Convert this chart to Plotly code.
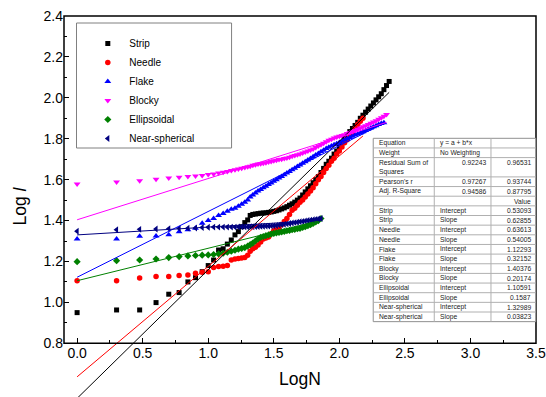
import plotly.graph_objects as go

# ---------------- data ----------------
X_GRID = [0.000, 0.301, 0.477, 0.602, 0.699, 0.778, 0.845, 0.903, 0.954, 1.000,
          1.041, 1.079, 1.114, 1.146, 1.176, 1.204, 1.230, 1.255, 1.279, 1.301,
          1.32, 1.34, 1.36, 1.38, 1.40, 1.42, 1.44, 1.46, 1.48, 1.50,
          1.52, 1.54, 1.56, 1.58, 1.60, 1.62, 1.64, 1.66, 1.68, 1.70,
          1.72, 1.74, 1.76, 1.78, 1.80, 1.82, 1.84, 1.86, 1.88, 1.90,
          1.92, 1.94, 1.96, 1.98, 2.00, 2.02, 2.04, 2.06, 2.08, 2.10,
          2.12, 2.14, 2.16, 2.18, 2.20, 2.22, 2.24, 2.26, 2.28, 2.30,
          2.32, 2.34, 2.36, 2.38]

STRIP_Y = [0.950, 0.963, 0.963, 0.999, 1.040, 1.048, 1.100, 1.121, 1.150, 1.180,
           1.207, 1.256, 1.262, 1.285, 1.305, 1.330, 1.346, 1.370, 1.390, 1.403,
           1.425, 1.430, 1.432, 1.434, 1.436, 1.437, 1.438, 1.440, 1.442, 1.445,
           1.448, 1.452, 1.457, 1.462, 1.468, 1.475, 1.482, 1.490, 1.500, 1.510,
           1.525, 1.540, 1.555, 1.570, 1.585, 1.600, 1.615, 1.635, 1.655, 1.675,
           1.690, 1.705, 1.725, 1.740, 1.760, 1.780, 1.800, 1.820, 1.835, 1.850,
           1.865, 1.880, 1.900, 1.915, 1.930, 1.945, 1.960, 1.975, 1.990, 2.005,
           2.020, 2.040, 2.060, 2.080]

NEEDLE_Y = [1.106, 1.106, 1.119, 1.126, 1.126, 1.132, 1.134, 1.142, 1.147, 1.150,
            1.170, 1.175, 1.177, 1.180, 1.207, 1.212, 1.215, 1.217, 1.220, 1.230,
            1.250, 1.262, 1.270, 1.280, 1.295, 1.310, 1.315, 1.320, 1.335, 1.350,
            1.355, 1.360, 1.380, 1.395, 1.410, 1.430, 1.450, 1.460, 1.475, 1.490,
            1.500, 1.515, 1.530, 1.545, 1.560, 1.580, 1.600, 1.615, 1.635, 1.655,
            1.670, 1.690, 1.705, 1.725, 1.740, 1.760, 1.780, 1.795, 1.815, 1.830,
            1.850, 1.870, 1.885, 1.900]

FLAKE_Y = [1.310, 1.310, 1.323, 1.325, 1.331, 1.345, 1.355, 1.362, 1.387, 1.400,
           1.410, 1.425, 1.435, 1.445, 1.455, 1.460, 1.470, 1.480, 1.490, 1.500,
           1.515, 1.525, 1.535, 1.545, 1.552, 1.560, 1.568, 1.576, 1.584, 1.592,
           1.600, 1.608, 1.616, 1.624, 1.632, 1.640, 1.648, 1.656, 1.664, 1.672,
           1.680, 1.688, 1.696, 1.704, 1.712, 1.720, 1.728, 1.736, 1.744, 1.752,
           1.758, 1.764, 1.770, 1.776, 1.782, 1.788, 1.794, 1.800, 1.806, 1.812,
           1.818, 1.823, 1.828, 1.834, 1.840, 1.846, 1.852, 1.858, 1.864, 1.869,
           1.874, 1.878]

BLOCKY_Y = [1.579, 1.589, 1.595, 1.602, 1.608, 1.612, 1.615, 1.618, 1.620, 1.625,
            1.628, 1.632, 1.636, 1.640, 1.645, 1.648, 1.652, 1.656, 1.660, 1.663,
            1.666, 1.670, 1.673, 1.676, 1.678, 1.680, 1.683, 1.686, 1.689, 1.692,
            1.695, 1.698, 1.700, 1.703, 1.706, 1.710, 1.714, 1.718, 1.722, 1.726,
            1.730, 1.735, 1.740, 1.745, 1.750, 1.757, 1.764, 1.771, 1.778, 1.785,
            1.792, 1.798, 1.803, 1.808, 1.812, 1.816, 1.820, 1.825, 1.830, 1.835,
            1.840, 1.846, 1.852, 1.858, 1.864, 1.870, 1.876, 1.882, 1.888, 1.895,
            1.902, 1.910, 1.918]

ELLIPSOIDAL_Y = [1.199, 1.204, 1.207, 1.212, 1.219, 1.224, 1.227, 1.229, 1.231, 1.232,
                 1.234, 1.237, 1.240, 1.245, 1.250, 1.255, 1.260, 1.264, 1.268, 1.275,
                 1.282, 1.290, 1.300, 1.310, 1.318, 1.322, 1.326, 1.330, 1.334, 1.337,
                 1.340, 1.342, 1.345, 1.347, 1.350, 1.352, 1.355, 1.357, 1.360, 1.362,
                 1.366, 1.370, 1.375, 1.380, 1.386, 1.393, 1.400, 1.410]

NEARSPH_Y = [1.348, 1.355, 1.357, 1.359, 1.360, 1.362, 1.363, 1.364, 1.366, 1.367,
             1.368, 1.368, 1.368, 1.368, 1.368, 1.368, 1.369, 1.369, 1.369, 1.369,
             1.370, 1.370, 1.371, 1.371, 1.372, 1.372, 1.373, 1.373, 1.374, 1.375,
             1.376, 1.378, 1.380, 1.382, 1.384, 1.386, 1.388, 1.390, 1.392, 1.394,
             1.396, 1.398, 1.400, 1.402, 1.404, 1.406, 1.408, 1.410]

SERIES_NAMES = ["Strip", "Needle", "Flake", "Blocky", "Ellipsoidal", "Near-spherical"]
SERIES_Y = [STRIP_Y, NEEDLE_Y, FLAKE_Y, BLOCKY_Y, ELLIPSOIDAL_Y, NEARSPH_Y]
INTERCEPTS = [0.53093, 0.63613, 1.12293, 1.40376, 1.10591, 1.32989]
SLOPES = [0.62855, 0.54005, 0.32152, 0.20174, 0.1587, 0.03823]

STAT_LABELS = ["Residual Sum of<br>Squares", "Pearson's r", "Adj. R-Square"]
STAT_COL2 = ["0.92243", "0.97267", "0.94586"]
STAT_COL3 = ["0.96531", "0.93744", "0.87795"]

X_TICKS = [0.0, 0.5, 1.0, 1.5, 2.0, 2.5, 3.0, 3.5]
X_MINOR = [0.25, 0.75, 1.25, 1.75, 2.25, 2.75, 3.25]
Y_TICKS = [0.8, 1.0, 1.2, 1.4, 1.6, 1.8, 2.0, 2.2, 2.4]
Y_MINOR = [0.9, 1.1, 1.3, 1.5, 1.7, 1.9, 2.1, 2.3]

# ---------------- styles ----------------
COLORS = ["#000000", "#ff0000", "#0000ff", "#ff00ff", "#008000", "#000080"]
SYMBOLS = ["square", "circle", "triangle-up", "triangle-down", "diamond", "triangle-left"]
SIZES = [5, 5.5, 6, 6, 5.5, 6]
FONT = "Arial, 'Liberation Sans', sans-serif"

W, H = 546, 397
ML, MR, MT, MB = 64.2, 10, 16, 0
PW, PH = W - ML - MR, H - MT - MB
Y_LO = 0.8 - (397 - 343.3) / ((343.3 - 16) / 1.6)
Y_RANGE = [Y_LO, 2.4]
X_RANGE = [-0.1, 3.5]
AXIS_POS = (0.8 - Y_LO) / (2.4 - Y_LO)


def pxx(px):
    return (px - ML) / PW


def pxy(py):
    return 1 - (py - MT) / PH


fig = go.Figure()

for name, ys, c, s, sz in zip(SERIES_NAMES, SERIES_Y, COLORS, SYMBOLS, SIZES):
    xs = X_GRID[:len(ys)]
    fig.add_trace(go.Scatter(x=xs, y=ys, mode="markers", name=name,
                             marker=dict(color=c, symbol=s, size=sz, line=dict(width=0))))

for name, ys, c, a, b in zip(SERIES_NAMES, SERIES_Y, COLORS, INTERCEPTS, SLOPES):
    xe = X_GRID[len(ys) - 1]
    fig.add_trace(go.Scatter(x=[0, xe], y=[a, a + b * xe], mode="lines",
                             line=dict(color=c, width=1), showlegend=False,
                             hoverinfo="skip"))

shapes = []
# plot frame
shapes.append(dict(type="rect", xref="paper", yref="paper", x0=0, x1=1, y0=AXIS_POS, y1=1,
                   line=dict(color="black", width=1.5), layer="above"))
# legend box
shapes.append(dict(type="rect", xref="paper", yref="paper", x0=pxx(76.7), x1=pxx(231.7),
                   y0=pxy(148), y1=pxy(23), line=dict(color="#808080", width=1), layer="above"))

# table
TX = [373.3, 434.3, 491.0, 535.7]
T_TOP = 138.3
UNIT = 9.65
row_units = [1, 1, 2, 1, 1, 1] + [1] * 12
bounds = [T_TOP]
for u in row_units:
    bounds.append(bounds[-1] + u * UNIT)
shapes.append(dict(type="rect", xref="paper", yref="paper", x0=pxx(TX[0]), x1=pxx(TX[-1]),
                   y0=pxy(bounds[-1]), y1=pxy(bounds[0]), fillcolor="white",
                   line=dict(color="#909090", width=1), layer="above"))
for yb in bounds[1:-1]:
    shapes.append(dict(type="line", xref="paper", yref="paper", x0=pxx(TX[0]), x1=pxx(TX[-1]),
                       y0=pxy(yb), y1=pxy(yb), line=dict(color="#b0b0b0", width=1), layer="above"))
for xb in TX[1:-1]:
    shapes.append(dict(type="line", xref="paper", yref="paper", x0=pxx(xb), x1=pxx(xb),
                       y0=pxy(bounds[-1]), y1=pxy(bounds[0]), line=dict(color="#b0b0b0", width=1), layer="above"))

annotations = []
TF = dict(family=FONT, size=6.7, color="#222222")


def cell(text, col, row, align="left", first_line=False):
    if first_line:
        yc = bounds[row] + UNIT / 2
    else:
        yc = (bounds[row] + bounds[row + 1]) / 2
    if align == "left":
        x = TX[col] + 4
    else:
        x = TX[col + 1] - 3
    annotations.append(dict(text=text, x=pxx(x), y=pxy(yc), xref="paper", yref="paper",
                            xanchor=align, yanchor="middle", showarrow=False, font=TF,
                            align="left"))


cell("Equation", 0, 0)
cell("y = a + b*x", 1, 0)
cell("Weight", 0, 1)
cell("No Weighting", 1, 1)
cell(STAT_LABELS[0], 0, 2)
cell(STAT_COL2[0], 1, 2, "right", True)
cell(STAT_COL3[0], 2, 2, "right", True)
for i in (1, 2):
    cell(STAT_LABELS[i], 0, 2 + i)
    cell(STAT_COL2[i], 1, 2 + i, "right")
    cell(STAT_COL3[i], 2, 2 + i, "right")
cell("Value", 2, 5, "right")
r = 6
for name, a, b in zip(SERIES_NAMES, INTERCEPTS, SLOPES):
    cell(name, 0, r)
    cell("Intercept", 1, r)
    cell(str(a), 2, r, "right")
    r += 1
    cell(name, 0, r)
    cell("Slope", 1, r)
    cell(str(b), 2, r, "right")
    r += 1

fig.update_layout(
    width=W, height=H,
    margin=dict(l=ML, r=MR, t=MT, b=MB, pad=0),
    paper_bgcolor="white", plot_bgcolor="white",
    font=dict(family=FONT, color="black"),
    shapes=shapes, annotations=annotations,
    legend=dict(x=pxx(86.5), y=pxy(29), xanchor="left", yanchor="top",
                bgcolor="rgba(0,0,0,0)", borderwidth=0, itemwidth=33,
                font=dict(family=FONT, size=10, color="black")),
    xaxis=dict(range=X_RANGE, anchor="free", position=AXIS_POS, showline=False,
               showgrid=False, zeroline=False, tickmode="array", tickvals=X_TICKS,
               ticktext=["%.1f" % v for v in X_TICKS],
               ticks="inside", ticklen=5, tickwidth=1.2, tickcolor="black",
               minor=dict(tickmode="array", tickvals=X_MINOR, ticks="inside", ticklen=3,
                          tickwidth=1.2, tickcolor="black"),
               tickfont=dict(family=FONT, size=14),
               title=dict(text="LogN", font=dict(family=FONT, size=17.5), standoff=12)),
    yaxis=dict(range=Y_RANGE, showline=False, showgrid=False, zeroline=False,
               tickmode="array", tickvals=Y_TICKS, ticktext=["%.1f" % v for v in Y_TICKS],
               ticks="inside", ticklen=5, tickwidth=1.2, tickcolor="black",
               minor=dict(tickmode="array", tickvals=Y_MINOR, ticks="inside", ticklen=3,
                          tickwidth=1.2, tickcolor="black"),
               tickfont=dict(family=FONT, size=14),
               title=dict(text="Log <i>l</i>", font=dict(family=FONT, size=17.5), standoff=12)),
)

fig.write_html("out.html")
